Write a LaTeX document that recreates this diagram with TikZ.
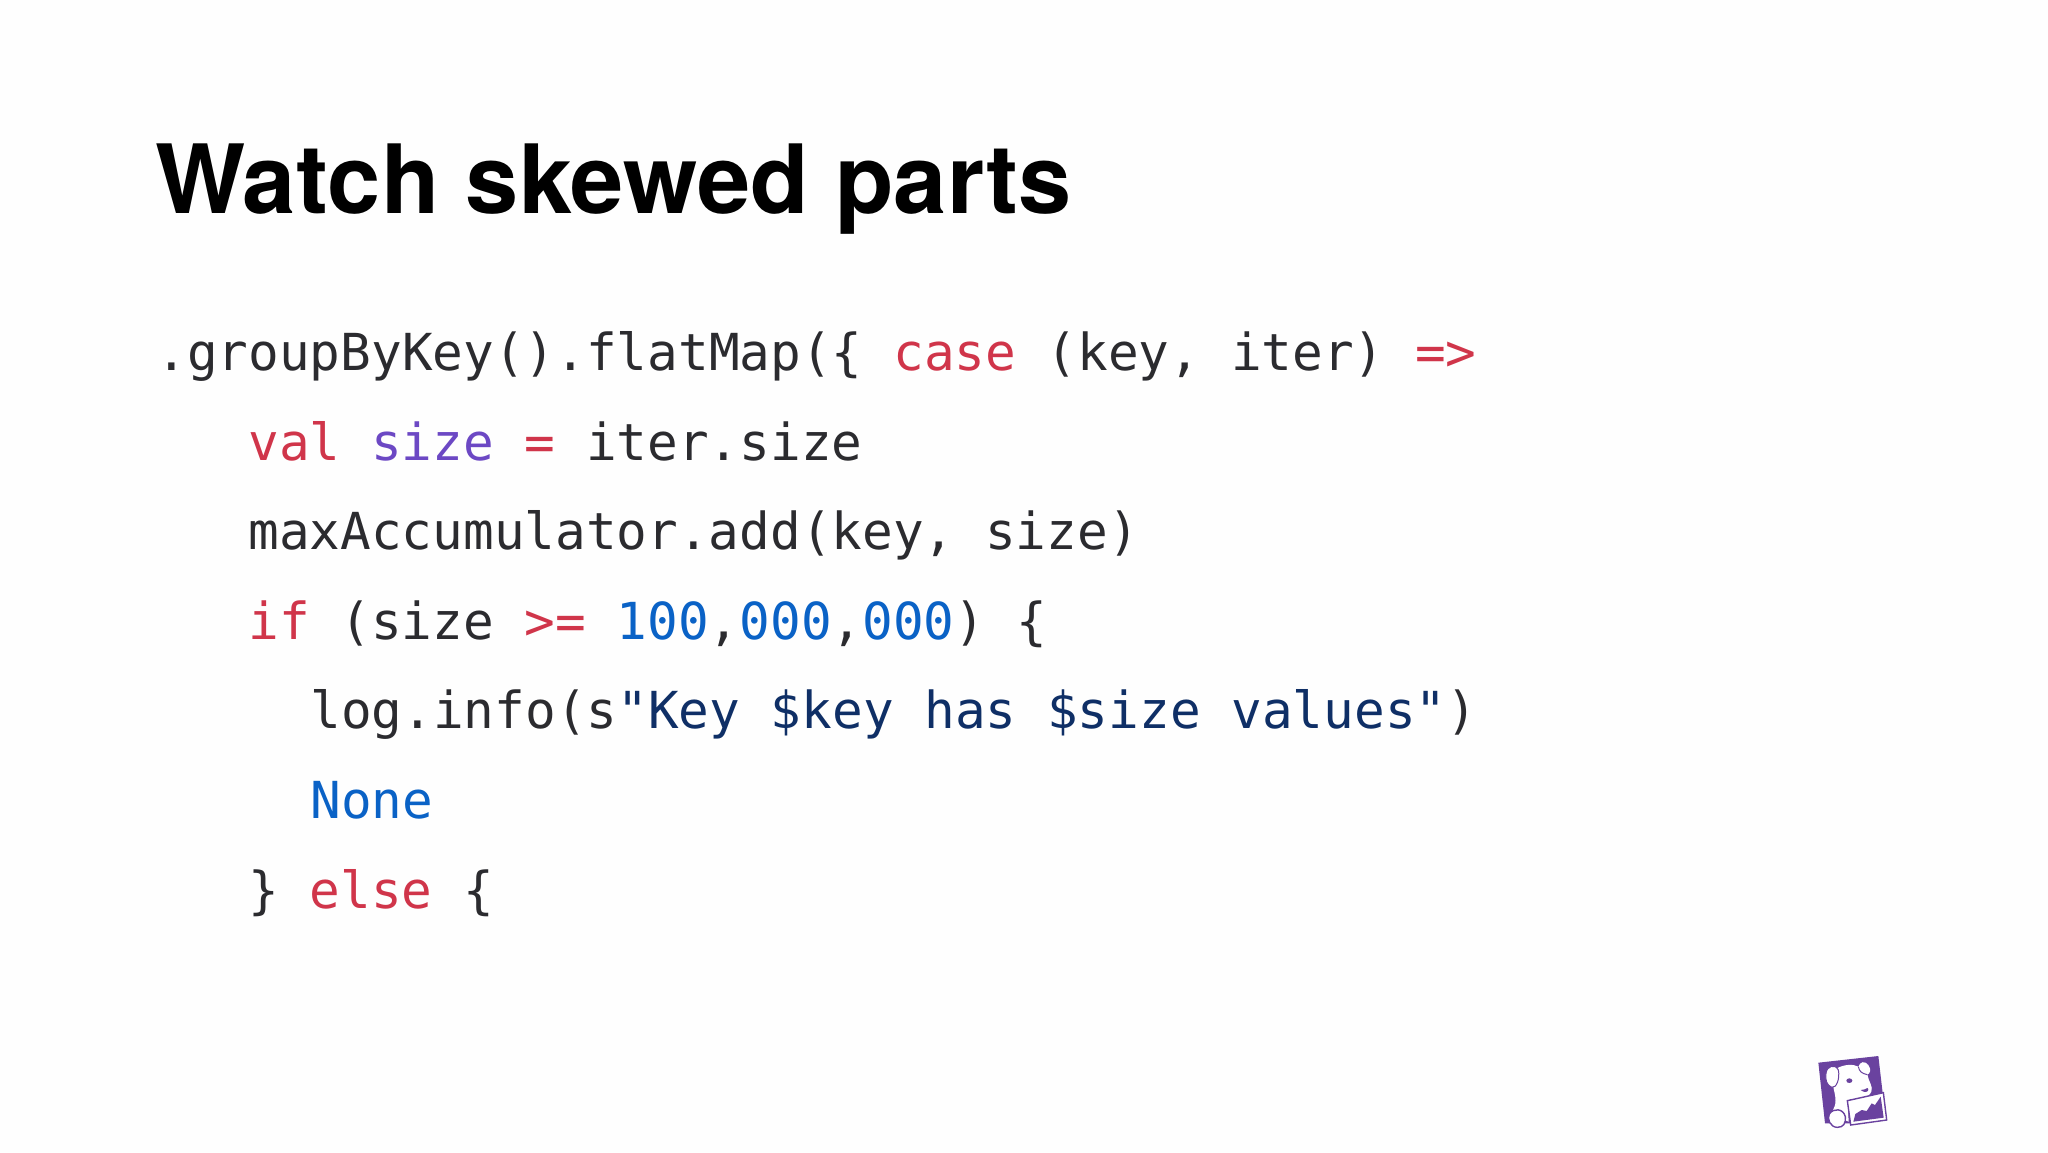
\documentclass[tikz,border=0pt]{standalone}
\usepackage{fontspec}
\setmainfont{TeX Gyre Heros}
\newfontfamily\codefont{DejaVu Sans Mono}
\definecolor{pagebg}{HTML}{FEFEFE}
\definecolor{ink}{HTML}{2B2B2F}
\definecolor{kw}{HTML}{D0354A}
\definecolor{vio}{HTML}{6C48C4}
\definecolor{num}{HTML}{0A62C6}
\definecolor{strc}{HTML}{0F2F66}
\definecolor{dd}{HTML}{6A429F}
\newcommand{\kwd}[1]{\textcolor{kw}{#1}}
\newcommand{\vio}[1]{\textcolor{vio}{#1}}
\newcommand{\nmb}[1]{\textcolor{num}{#1}}
\newcommand{\stc}[1]{\textcolor{strc}{#1}}
\tikzset{
  titletext/.style={anchor=base west,inner sep=0pt,font=\fontsize{47.8}{50}\selectfont\bfseries,text=black},
  codeline/.style={anchor=base west,inner sep=0pt,font=\fontsize{25.5}{25.5}\codefont,text=ink},
}
\begin{document}
\begin{tikzpicture}[x=0.5pt,y=-0.5pt]
\useasboundingbox (0,0) rectangle (2048,1152);
\fill[pagebg] (0,0) rectangle (2048,1152);
\node[titletext] (title) at (155,213) {Watch skewed parts};
\node[codeline] (l1) at (156,370) {.groupByKey().flatMap(\{ \kwd{case} (key, iter) \kwd{=>}};
\node[codeline] (l2) at (248,460) {\kwd{val} \vio{size} \kwd{=} iter.size};
\node[codeline] (l3) at (248,549) {maxAccumulator.add(key, size)};
\node[codeline] (l4) at (248,639) {\kwd{if} (size \kwd{>=} \nmb{100},\nmb{000},\nmb{000}) \{};
\node[codeline] (l5) at (310,728) {log.info(s\stc{"Key \$key has \$size values"})};
\node[codeline] (l6) at (310,818) {\nmb{None}};
\node[codeline] (l7) at (248,908) {\} \kwd{else} \{};
\begin{scope}[shift={(1790,1040)},scale=1/3]
  \fill[dd] (85,68) -- (265,48) -- (278,160) -- (172,182) -- (182,250) -- (105,250) -- cycle;
  \fill[white] (140,85) .. controls (165,72) and (190,72) .. (205,80)
     .. controls (210,64) and (225,62) .. (235,75)
     .. controls (245,90) and (240,100) .. (232,104)
     .. controls (236,125) and (250,140) .. (244,155)
     .. controls (235,175) and (205,182) .. (180,176)
     .. controls (172,195) and (175,225) .. (176,245)
     -- (120,222) .. controls (135,205) and (140,190) .. (134,160)
     .. controls (130,145) and (125,125) .. (140,85) -- cycle;
  \fill[white,draw=dd,line width=0.5pt] (108,100) .. controls (110,78) and (135,70) .. (145,90)
     .. controls (150,115) and (140,145) .. (125,142)
     .. controls (110,135) and (105,120) .. (108,100) -- cycle;
  \fill[white,draw=dd,line width=0.7pt] (142,262) .. controls (120,262) and (110,235) .. (118,222)
     .. controls (130,203) and (160,205) .. (166,230)
     .. controls (168,250) and (160,262) .. (142,262) -- cycle;
  \fill[dd] (178,122) ellipse[x radius=9,y radius=7];
  \fill[dd] (224,148) .. controls (232,142) and (238,144) .. (235,150) .. controls (232,158) and (222,158) .. (212,150) -- cycle;
  \draw[dd,line width=0.5pt] (205,80) .. controls (208,95) and (215,100) .. (232,104);
  \fill[white,draw=dd,line width=0.7pt] (172,182) -- (280,158) -- (290,240) -- (182,255) -- cycle;
  \fill[dd] (190,245) -- (196,222) -- (215,210) -- (230,213) -- (245,190) -- (255,195) -- (272,170) -- (281,233) -- cycle;
\end{scope}
\end{tikzpicture}
\end{document}
